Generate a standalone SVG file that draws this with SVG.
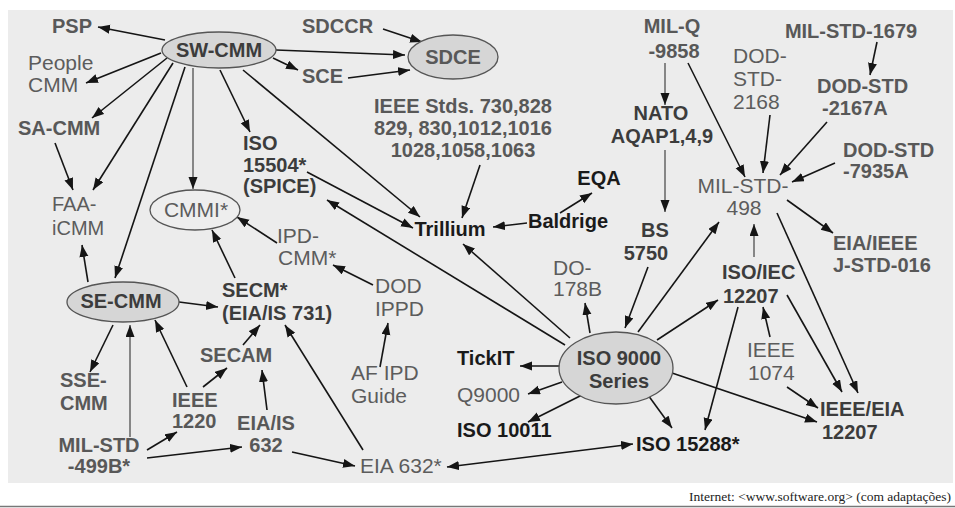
<svg xmlns="http://www.w3.org/2000/svg" width="955" height="508" viewBox="0 0 955 508">
<defs>
<marker id="ah" markerUnits="userSpaceOnUse" markerWidth="13" markerHeight="10" refX="12" refY="4.5" orient="auto-start-reverse">
<path d="M0,0 L12,4.5 L0,9 z" fill="#151515"/>
</marker>
<style>
text{font-family:"Liberation Sans",Arial,sans-serif;font-size:20px;font-weight:bold;fill:#585858}
.r{font-weight:normal;font-size:21px;fill:#5c5c5c}
.d{fill:#1a1a1a}
.m{fill:#3c3c3c}
.c{text-anchor:middle}
.el{fill:#d6d6d6;stroke:#555;stroke-width:1.3}
.eo{fill:#eeeeee;stroke:#555;stroke-width:1.3}
#conn line{stroke:#151515;stroke-width:1.6;marker-end:url(#ah)}
#conn line.t{stroke-width:1.1;stroke:#333}
#conn line.b{marker-start:url(#ah)}
.foot{font-family:"Liberation Serif","Times New Roman",serif;font-size:13.5px;font-weight:normal;fill:#222;text-anchor:end}
</style>
</defs>
<rect x="0" y="0" width="955" height="508" fill="#ffffff"/>
<rect x="8" y="10" width="945" height="473" fill="#ececec"/>
<line x1="0" y1="506.5" x2="955" y2="506.5" stroke="#777" stroke-width="1.5"/>

<g id="conn">
<line x1="165" y1="40" x2="98" y2="27"/>
<line x1="161" y1="53" x2="86" y2="83"/>
<line x1="167" y1="58" x2="92" y2="118"/>
<line x1="173" y1="63" x2="93" y2="190"/>
<line x1="185" y1="67" x2="115" y2="278"/>
<line class="t" x1="193" y1="68" x2="193" y2="189"/>
<line x1="220" y1="70" x2="250" y2="132"/>
<line x1="243" y1="70" x2="420" y2="217"/>
<line x1="273" y1="58" x2="298" y2="70"/>
<line x1="276" y1="50" x2="405" y2="55"/>
<line x1="383" y1="29" x2="422" y2="42"/>
<line x1="348" y1="78" x2="410" y2="70"/>
<line x1="55" y1="143" x2="73" y2="190"/>
<line x1="88" y1="282" x2="82" y2="245"/>
<line x1="307" y1="172" x2="413" y2="228"/>
<line x1="565" y1="345" x2="327" y2="200"/>
<line x1="570" y1="338" x2="463" y2="244"/>
<line x1="480" y1="165" x2="462" y2="218"/>
<line x1="527" y1="223" x2="493" y2="227"/>
<line x1="560" y1="213" x2="592" y2="193"/>
<line class="t" x1="665" y1="63" x2="665" y2="105"/>
<line class="t" x1="665" y1="150" x2="665" y2="212"/>
<line x1="688" y1="63" x2="745" y2="177"/>
<line x1="770" y1="115" x2="763" y2="173"/>
<line x1="827" y1="122" x2="780" y2="175"/>
<line x1="877" y1="42" x2="870" y2="75"/>
<line x1="835" y1="163" x2="792" y2="182"/>
<line x1="787" y1="200" x2="833" y2="233"/>
<line class="t" x1="754" y1="257" x2="754" y2="224"/>
<line x1="777" y1="213" x2="858" y2="393"/>
<line x1="787" y1="295" x2="842" y2="392"/>
<line x1="770" y1="337" x2="763" y2="307"/>
<line x1="787" y1="387" x2="818" y2="408"/>
<line x1="672" y1="373" x2="817" y2="422"/>
<line x1="738" y1="307" x2="705" y2="430"/>
<line x1="648" y1="395" x2="672" y2="428"/>
<line x1="657" y1="340" x2="718" y2="300"/>
<line x1="638" y1="332" x2="719" y2="222"/>
<line x1="648" y1="267" x2="625" y2="328"/>
<line x1="590" y1="333" x2="585" y2="303"/>
<line x1="560" y1="366" x2="520" y2="366"/>
<line x1="562" y1="382" x2="528" y2="394"/>
<line x1="582" y1="395" x2="528" y2="422"/>
<line class="b" x1="447" y1="467" x2="633" y2="444"/>
<line x1="363" y1="450" x2="285" y2="325"/>
<line x1="292" y1="452" x2="355" y2="466"/>
<line x1="147" y1="458" x2="242" y2="447"/>
<line x1="147" y1="450" x2="177" y2="432"/>
<line class="t" x1="130" y1="437" x2="130" y2="325"/>
<line x1="187" y1="387" x2="155" y2="320"/>
<line x1="203" y1="387" x2="227" y2="368"/>
<line x1="267" y1="410" x2="262" y2="370"/>
<line x1="243" y1="345" x2="260" y2="325"/>
<line x1="113" y1="325" x2="90" y2="372"/>
<line x1="179" y1="302" x2="218" y2="307"/>
<line x1="235" y1="278" x2="212" y2="230"/>
<line x1="277" y1="243" x2="237" y2="217"/>
<line x1="373" y1="285" x2="333" y2="265"/>
<line x1="380" y1="367" x2="388" y2="323"/>
</g>

<g id="psp"><text x="52" y="33">PSP</text></g>
<g id="swcmm"><ellipse class="el" cx="219" cy="50" rx="57" ry="18"/><text class="c m" x="219" y="57">SW-CMM</text></g>
<g id="people"><text class="r" x="28" y="70">People</text><text class="r" x="28" y="92">CMM</text></g>
<g id="sacmm"><text x="18" y="135">SA-CMM</text></g>
<g id="faa"><text class="r" x="52" y="211" style="font-size:20px">FAA-</text><text class="r" x="52" y="235" style="font-size:20px">iCMM</text></g>
<g id="cmmi"><ellipse class="eo" cx="195" cy="210" rx="45" ry="20"/><text class="r c" x="196" y="217">CMMI*</text></g>
<g id="iso15504"><text class="m" x="243" y="150">ISO</text><text class="m" x="243" y="172">15504*</text><text class="m" x="243" y="193">(SPICE)</text></g>
<g id="sdccr"><text x="302" y="33">SDCCR</text></g>
<g id="sdce"><ellipse class="el" cx="453" cy="57" rx="45" ry="22"/><text class="c" x="453" y="64">SDCE</text></g>
<g id="sce"><text x="302" y="83">SCE</text></g>
<g id="ieeestds"><text class="c" x="463" y="113">IEEE Stds.  730,828</text><text class="c" x="463" y="135">829, 830,1012,1016</text><text class="c" x="463" y="157">1028,1058,1063</text></g>
<g id="trillium"><text class="c d" x="450" y="236">Trillium</text></g>
<g id="baldrige"><text class="d" x="528" y="228">Baldrige</text></g>
<g id="eqa"><text class="c d" x="599" y="185">EQA</text></g>
<g id="milq"><text class="c" x="672" y="33">MIL-Q</text><text class="c" x="674" y="58">-9858</text></g>
<g id="milstd1679"><text class="c" x="851" y="38">MIL-STD-1679</text></g>
<g id="dod2168"><text class="r" x="733" y="63">DOD-</text><text class="r" x="733" y="86">STD-</text><text class="r" x="733" y="109">2168</text></g>
<g id="dod2167a"><text x="817" y="93">DOD-STD</text><text x="822" y="115">-2167A</text></g>
<g id="nato"><text class="c m" x="661" y="120">NATO</text><text class="c m" x="662" y="143">AQAP1,4,9</text></g>
<g id="dod7935a"><text x="843" y="157">DOD-STD</text><text x="843" y="178">-7935A</text></g>
<g id="milstd498"><text class="r c" x="743" y="193">MIL-STD-</text><text class="r c" x="744" y="215">498</text></g>
<g id="bs5750"><text class="c m" x="655" y="237">BS</text><text class="c m" x="646" y="260">5750</text></g>
<g id="eiaieee"><text x="833" y="250">EIA/IEEE</text><text x="833" y="272">J-STD-016</text></g>
<g id="isoiec12207"><text class="m" x="722" y="279">ISO/IEC</text><text class="m" x="723" y="303">12207</text></g>
<g id="ieee1074"><text class="r" x="747" y="357">IEEE</text><text class="r" x="748" y="380">1074</text></g>
<g id="ieeeeia12207"><text class="m" x="820" y="416">IEEE/EIA</text><text class="m" x="822" y="439">12207</text></g>
<g id="iso15288"><text class="d" x="636" y="451">ISO 15288*</text></g>
<g id="iso9000"><ellipse class="el" cx="616" cy="368" rx="57" ry="36"/><text class="c m" x="619" y="365">ISO 9000</text><text class="c m" x="619" y="388">Series</text></g>
<g id="dodippd"><text class="r" x="375" y="293">DOD</text><text class="r" x="375" y="316">IPPD</text></g>
<g id="do178b"><text class="r" x="553" y="275">DO-</text><text class="r" x="553" y="296">178B</text></g>
<g id="tickit"><text class="d" x="457" y="365">TickIT</text></g>
<g id="q9000"><text class="r" x="457" y="402">Q9000</text></g>
<g id="iso10011"><text class="d" x="457" y="437">ISO 10011</text></g>
<g id="afipd"><text class="r" x="351" y="380">AF IPD</text><text class="r" x="351" y="403">Guide</text></g>
<g id="eia632"><text class="r" x="360" y="473">EIA 632*</text></g>
<g id="secmm"><ellipse class="el" cx="123" cy="302" rx="56" ry="20"/><text class="c m" x="121" y="308">SE-CMM</text></g>
<g id="secm"><text class="m" x="222" y="297">SECM*</text><text class="m" x="222" y="320">(EIA/IS 731)</text></g>
<g id="ipdcmm"><text class="r" x="277" y="243">IPD-</text><text class="r" x="278" y="265">CMM*</text></g>
<g id="secam"><text x="200" y="362">SECAM</text></g>
<g id="ssecmm"><text x="60" y="387">SSE-</text><text x="60" y="410">CMM</text></g>
<g id="ieee1220"><text x="172" y="407">IEEE</text><text x="172" y="428">1220</text></g>
<g id="eiais632"><text class="c" x="266" y="430">EIA/IS</text><text class="c" x="266" y="452">632</text></g>
<g id="milstd499b"><text class="c" x="99" y="452">MIL-STD</text><text class="c" x="99" y="473">-499B*</text></g>
<text class="foot" x="951" y="501">Internet: &lt;www.software.org&gt; (com adaptações)</text>
</svg>
